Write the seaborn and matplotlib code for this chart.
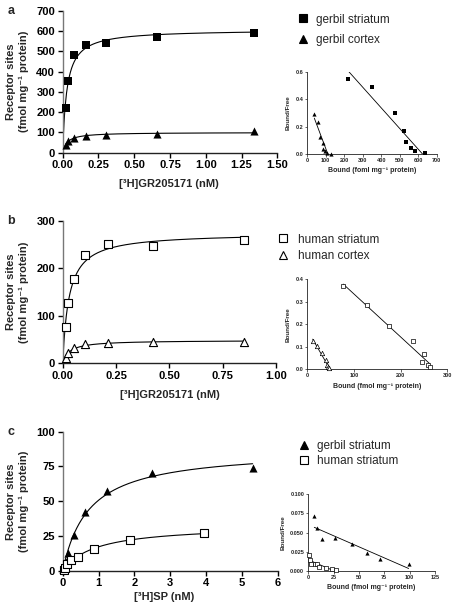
import numpy as np
import pandas as pd
import matplotlib
matplotlib.use("Agg")
import matplotlib.pyplot as plt
from matplotlib.ticker import FormatStrFormatter
from matplotlib.lines import Line2D
import seaborn as sns

# ---------------- data ----------------
# panel a : saturation
a_x = [0.02, 0.04, 0.08, 0.16, 0.30, 0.66, 1.34]
a_str_y = [218, 355, 484, 530, 543, 570, 590]
a_ctx_y = [40, 58, 73, 82, 86, 93, 105]
# panel a : Scatchard
a_sc_str_x = [218, 350, 476, 523, 536, 561, 581, 637]
a_sc_str_y = [0.549, 0.488, 0.301, 0.168, 0.087, 0.041, 0.019, 0.010]
a_sc_ctx_x = [38, 59, 70, 83, 85, 96, 105, 128]
a_sc_ctx_y = [0.289, 0.233, 0.126, 0.078, 0.039, 0.024, 0.010, 0.002]

# panel b
b_x = [0.0132, 0.0265, 0.053, 0.106, 0.212, 0.424, 0.848]
b_str_y = [77, 127, 177, 228, 251, 247, 260]
b_ctx_y = [11, 21, 32, 41, 43, 45, 44]
b_sc_str_x = [77, 127, 176, 227, 251, 246, 259, 262]
b_sc_str_y = [0.370, 0.286, 0.192, 0.126, 0.067, 0.034, 0.019, 0.009]
b_sc_ctx_x = [11.5, 21, 31, 39, 43, 45, 46]
b_sc_ctx_y = [0.127, 0.104, 0.071, 0.041, 0.019, 0.010, 0.005]

# panel c
c_g_x = [0.02, 0.04, 0.08, 0.16, 0.32, 0.63, 1.25, 2.5, 5.3]
c_g_y = [1.5, 3.5, 6.5, 12.5, 26, 42, 57.5, 70, 74]
c_h_x = [0.03, 0.06, 0.12, 0.22, 0.42, 0.88, 1.88, 3.95]
c_h_y = [0.8, 2, 4.5, 8, 9.5, 15.5, 22, 27]
c_sc_g_x = [5.9, 8.9, 13.2, 26.6, 43.4, 57.9, 70.7, 99]
c_sc_g_y = [0.0717, 0.0557, 0.0413, 0.0426, 0.0352, 0.0239, 0.0152, 0.0095]
c_sc_h_x = [1, 1.7, 2.7, 6.6, 9, 11, 17.5, 23, 27]
c_sc_h_y = [0.0209, 0.0143, 0.0091, 0.0087, 0.0095, 0.0056, 0.0035, 0.0022, 0.0013]

labels_a = ["gerbil striatum", "gerbil cortex"]
labels_b = ["human striatum", "human cortex"]
labels_c = ["gerbil striatum", "human striatum"]

xlabel_main_ab = "[³H]GR205171 (nM)"
xlabel_main_c = "[³H]SP (nM)"
ylabel_main = "Receptor sites\n(fmol mg⁻¹ protein)"
ylabel_in = "Bound/Free"
xlabel_in_a = "Bound (foml mg⁻¹ protein)"
xlabel_in_bc = "Bound (fmol mg⁻¹ protein)"

# ---------------- style ----------------
sns.set_theme(style="ticks")
plt.rcParams['font.family'] = ['Liberation Sans', 'DejaVu Sans']
plt.rcParams['font.weight'] = 'bold'
plt.rcParams['axes.labelweight'] = 'bold'

W, H = 453, 608
fig = plt.figure(figsize=(W / 100, H / 100), dpi=100)


def fax(left, top, right, bottom):
    return fig.add_axes([left / W, 1 - bottom / H, (right - left) / W, (bottom - top) / H])


def hyper_fit(x, y):
    x = np.asarray(x, float); y = np.asarray(y, float)
    best = None
    for kd in np.linspace(0.001, 5, 20000):
        f = x / (kd + x)
        bmax = (f * y).sum() / (f * f).sum()
        sse = ((y - bmax * f) ** 2).sum()
        if best is None or sse < best[0]:
            best = (sse, bmax, kd)
    return best[1], best[2]


def curve(ax, x, y):
    bmax, kd = hyper_fit(x, y)
    xx = np.linspace(0, max(x), 300)
    sns.lineplot(x=xx, y=bmax * xx / (kd + xx), ax=ax, color='black', lw=0.8,
                 estimator=None, sort=False)


def regline(ax, x, y, lw=0.6):
    x = np.asarray(x, float); y = np.asarray(y, float)
    m, b = np.polyfit(x, y, 1)
    x1 = min(max(x), -b / m)
    xx = np.array([min(x), x1])
    sns.lineplot(x=xx, y=m * xx + b, ax=ax, color='black', lw=lw, estimator=None, sort=False)


def pts(ax, x, y, marker, filled, s, lw=0.8, label=None):
    sns.scatterplot(x=x, y=y, ax=ax, marker=marker, s=s,
                    color='black' if filled else 'white',
                    edgecolor='black', linewidth=(0 if filled else lw),
                    clip_on=False, zorder=5, label=label, legend=False)


def style_main(ax, xlim, xticks, xfmt, ylim, yticks):
    ax.set_xlim(*xlim); ax.set_ylim(*ylim)
    ax.set_xticks(xticks); ax.set_yticks(yticks)
    ax.xaxis.set_major_formatter(FormatStrFormatter(xfmt))
    sns.despine(ax=ax)
    for s in ['left', 'bottom']:
        ax.spines[s].set_linewidth(1.0)
        ax.spines[s].set_color('#222222')
    ax.spines['left'].set_color('#777777')
    ax.tick_params(direction='out', length=3.5, width=1, labelsize=8, pad=2, colors='black')
    ax.set_xlabel(''); ax.set_ylabel('')


def style_inset(ax, xlim, xticks, ylim, yticks, yfmt, xlabel):
    ax.set_xlim(*xlim); ax.set_ylim(*ylim)
    ax.set_xticks(xticks); ax.set_yticks(yticks)
    ax.yaxis.set_major_formatter(FormatStrFormatter(yfmt))
    sns.despine(ax=ax)
    for s in ['left', 'bottom']:
        ax.spines[s].set_linewidth(0.6)
        ax.spines[s].set_color('#222222')
    ax.tick_params(direction='out', length=1.8, width=0.5, labelsize=4, pad=1.2)
    ax.set_xlabel(xlabel, fontsize=5, labelpad=3)
    ax.set_ylabel(ylabel_in, fontsize=4.5, labelpad=3)


def legend(ax, handles, labels, mx, my, dy, tx):
    fs = 8.5
    fspx = fs * 100 / 72
    hl = 1.0
    left = mx - hl * fspx / 2
    pad = (tx - (left + hl * fspx)) / fspx
    ls = (dy - fspx) / fspx
    top = my - fspx * 0.55
    ax.legend(handles, labels, loc='upper left', bbox_to_anchor=(left / W, 1 - top / H),
              bbox_transform=fig.transFigure, frameon=False, borderpad=0, borderaxespad=0,
              handlelength=hl, handletextpad=pad, labelspacing=ls,
              prop={'size': fs, 'weight': 'normal'})


def h(marker, filled):
    return Line2D([], [], ls='none', marker=marker, markersize=5.5,
                  markerfacecolor='black' if filled else 'white',
                  markeredgecolor='black', markeredgewidth=0.8)


def main_labels(ax, top, bottom, xlab, xlab_x, xlab_y, letter):
    cy = (top + bottom) / 2
    fig.text(17.5 / W, 1 - cy / H, ylabel_main, rotation=90, ha='center', va='center',
             multialignment='center', fontsize=8, fontweight='bold', linespacing=1.25)
    fig.text(xlab_x / W, 1 - xlab_y / H, xlab, ha='center', va='center', fontsize=8,
             fontweight='bold')
    fig.text(7.5 / W, 1 - top / H, letter, ha='left', va='center', fontsize=9,
             fontweight='bold')


MS = 34

# ---------------- panel a ----------------
ax = fax(62.7, 10.7, 277.3, 152.7)
curve(ax, a_x, a_str_y); curve(ax, a_x, a_ctx_y)
pts(ax, a_x, a_str_y, 's', True, MS)
pts(ax, a_x, a_ctx_y, '^', True, MS)
style_main(ax, (0, 1.5), np.arange(0, 1.51, 0.25), '%.2f', (0, 700), range(0, 701, 100))
legend(ax, [h('s', True), h('^', True)], labels_a, 303.3, 20, 20, 316)
main_labels(ax, 10.7, 152.7, xlabel_main_ab, 169, 184, 'a')

ai = fax(307.3, 71.7, 436.7, 154)
regline(ai, a_sc_str_x, a_sc_str_y); regline(ai, a_sc_ctx_x, a_sc_ctx_y)
pts(ai, a_sc_str_x, a_sc_str_y, 's', True, 9)
pts(ai, a_sc_ctx_x, a_sc_ctx_y, '^', True, 9)
style_inset(ai, (0, 700), range(0, 701, 100), (0, 0.6), np.arange(0, 0.61, 0.2), '%.1f', xlabel_in_a)

# ---------------- panel b ----------------
bx = fax(62.7, 221, 276, 363.3)
curve(bx, b_x, b_str_y); curve(bx, b_x, b_ctx_y)
pts(bx, b_x, b_str_y, 's', False, MS)
pts(bx, b_x, b_ctx_y, '^', False, MS)
style_main(bx, (0, 1.0), np.arange(0, 1.01, 0.25), '%.2f', (0, 300), range(0, 301, 100))
legend(bx, [h('s', False), h('^', False)], labels_b, 283.3, 240, 16.7, 297.7)
main_labels(bx, 221, 363.3, xlabel_main_ab, 170, 395, 'b')

bi = fax(307.3, 279.3, 447.3, 369.3)
regline(bi, b_sc_str_x, b_sc_str_y); regline(bi, b_sc_ctx_x, b_sc_ctx_y)
pts(bi, b_sc_str_x, b_sc_str_y, 's', False, 10, lw=0.5)
pts(bi, b_sc_ctx_x, b_sc_ctx_y, '^', False, 10, lw=0.5)
style_inset(bi, (0, 300), range(0, 301, 100), (0, 0.4), np.arange(0, 0.41, 0.1), '%.1f', xlabel_in_bc)

# ---------------- panel c ----------------
cx = fax(62.7, 431.7, 277.7, 570.7)
curve(cx, c_g_x, c_g_y); curve(cx, c_h_x, c_h_y)
pts(cx, c_g_x, c_g_y, '^', True, MS)
pts(cx, c_h_x, c_h_y, 's', False, MS)
style_main(cx, (0, 6), range(0, 7), '%d', (0, 100), range(0, 101, 25))
legend(cx, [h('^', True), h('s', False)], labels_c, 304, 446.7, 15, 316.7)
main_labels(cx, 431.7, 570.7, xlabel_main_c, 164, 597, 'c')

ci = fax(308.3, 494.3, 435, 571)
regline(ci, c_sc_g_x, c_sc_g_y); regline(ci, c_sc_h_x, c_sc_h_y)
pts(ci, c_sc_g_x, c_sc_g_y, '^', True, 9)
pts(ci, c_sc_h_x, c_sc_h_y, 's', False, 9, lw=0.5)
style_inset(ci, (0, 125), range(0, 126, 25), (0, 0.1), np.arange(0, 0.1001, 0.025), '%.3f', xlabel_in_bc)

fig.savefig('out.png', dpi=100)
